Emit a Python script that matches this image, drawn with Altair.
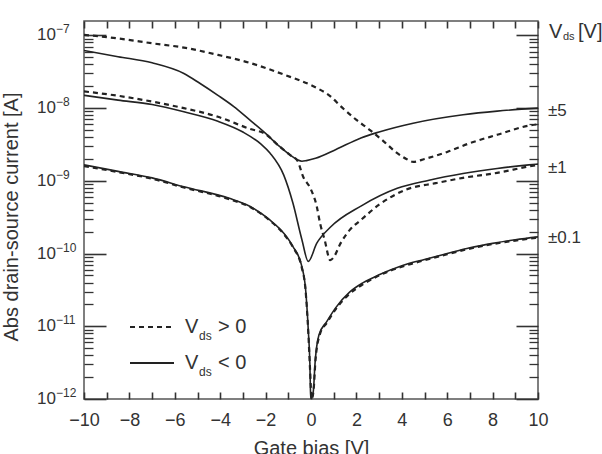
import altair as alt
import pandas as pd

W, H = 454, 378
FONT = "Liberation Sans"
INK = "#222222"
TICK = "#333333"

# ---- curves (gate bias [V], |Ids| [A]) ----
v_p5 = [-10, -8.5, -7, -5.6, -4.1, -2.7, -1.2, 0.1, 0.8, 1.4, 2.0, 2.6, 3.2, 3.8, 4.2, 4.5, 5.0, 6.0, 7.0, 8.2, 9.6, 10]
i_p5 = [1.02e-7, 9.1e-8, 7.8e-8, 6.8e-8, 5.4e-8, 4.2e-8, 2.9e-8, 2.0e-8, 1.5e-8, 1.0e-8, 6.9e-9, 5.0e-9,
        3.5e-9, 2.4e-9, 2.0e-9, 1.82e-9, 2.0e-9, 2.5e-9, 3.3e-9, 4.3e-9, 5.75e-9, 6.0e-9]

v_m5 = [-10, -8.5, -7, -5.6, -4.9, -4.1, -3.4, -2.7, -2.1, -1.4, -0.9, -0.6, -0.4, -0.2, 0.2, 1.1, 2.2, 3.0, 4.5, 6.7, 8.2, 10]
i_m5 = [6.2e-8, 5.1e-8, 4.2e-8, 3.0e-8, 2.2e-8, 1.5e-8, 1.05e-8, 6.9e-9, 4.8e-9, 3.0e-9, 2.24e-9, 1.95e-9,
        1.86e-9, 1.9e-9, 2.04e-9, 2.7e-9, 3.9e-9, 4.7e-9, 6.2e-9, 8.1e-9, 9.1e-9, 1.0e-8]

v_p1 = [-10, -8.5, -7, -5.6, -4.1, -2.7, -2.0, -1.4, -0.9, -0.6, -0.35, 0.0, 0.25, 0.4, 0.6, 0.85, 1.0, 1.3, 1.7,
        2.2, 3.0, 4.2, 5.5, 6.7, 8.2, 9.6, 10]
i_p1 = [1.7e-8, 1.48e-8, 1.23e-8, 1.0e-8, 7.6e-9, 5.2e-9, 4.4e-9, 3.0e-9, 2.24e-9, 1.9e-9, 1.15e-9, 7.6e-10,
        4.5e-10, 2.6e-10, 1.55e-10, 8.1e-11, 8.9e-11, 1.38e-10, 2.1e-10, 2.9e-10, 4.7e-10, 7.6e-10, 9.3e-10,
        1.1e-9, 1.29e-9, 1.58e-9, 1.66e-9]

v_m1 = [-10, -8.5, -7, -5.6, -4.1, -3.0, -2.2, -1.8, -1.2, -0.8, -0.4, -0.12, 0.25, 0.85, 2.2, 3.8, 5.2, 6.7, 8.2, 9.6, 10]
i_m1 = [1.5e-8, 1.29e-8, 1.12e-8, 8.9e-9, 6.6e-9, 4.7e-9, 3.2e-9, 2.4e-9, 1.2e-9, 5.0e-10, 1.55e-10, 7.8e-11,
        1.38e-10, 2.3e-10, 4.5e-10, 7.9e-10, 1.02e-9, 1.26e-9, 1.48e-9, 1.66e-9, 1.7e-9]

v_p01 = [-10, -8.5, -7, -5.6, -3.6, -2.7, -1.8, -1.2, -0.8, -0.4, -0.25, -0.12, -0.04, 0.03, 0.12, 0.2, 0.4, 0.7,
         1.1, 1.7, 2.3, 3, 4, 5, 6, 7, 8, 9, 10]
i_p01 = [1.6e-9, 1.32e-9, 1.07e-9, 8.1e-10, 5.6e-10, 4.4e-10, 2.82e-10, 1.86e-10, 1.23e-10, 6.3e-11, 3.4e-11,
         8.3e-12, 2.5e-12, 1.0e-12, 1.4e-12, 3.5e-12, 7.9e-12, 1.12e-11, 1.74e-11, 2.8e-11, 3.8e-11, 5.0e-11,
         6.6e-11, 8.1e-11, 9.8e-11, 1.17e-10, 1.35e-10, 1.51e-10, 1.66e-10]

v_m01 = [-10, -8.5, -7, -5.6, -3.6, -2.7, -1.8, -1.2, -0.8, -0.4, -0.25, -0.12, -0.05, -0.02, 0.0, 0.1, 0.18, 0.35,
         0.7, 1.1, 1.7, 2.3, 3, 4, 5, 6, 7, 8, 9, 10]
i_m01 = [1.66e-9, 1.35e-9, 1.10e-9, 8.3e-10, 5.75e-10, 4.47e-10, 2.88e-10, 1.91e-10, 1.26e-10, 6.6e-11, 3.55e-11,
         8.9e-12, 3.1e-12, 1.2e-12, 1.0e-12, 1.26e-12, 3.16e-12, 7.6e-12, 1.17e-11, 1.82e-11, 2.95e-11, 3.98e-11,
         5.1e-11, 6.8e-11, 8.3e-11, 1.0e-10, 1.2e-10, 1.38e-10, 1.55e-10, 1.7e-10]

# ---- axes / labels ----
x_tick_values = [-10, -9, -8, -7, -6, -5, -4, -3, -2, -1, 0, 1, 2, 3, 4, 5, 6, 7, 8, 9, 10]
y_decades = [1e-12, 1e-11, 1e-10, 1e-9, 1e-8, 1e-7]
y_exponents = ["\u221212", "\u221211", "\u221210", "\u22129", "\u22128", "\u22127"]
y_minor = [m * d for d in [1e-12, 1e-11, 1e-10, 1e-9, 1e-8] for m in [2, 3, 4, 5, 6, 7, 8, 9]]
vds_labels = ["\u00b15", "\u00b11", "\u00b10.1"]
vds_label_pos = [9.0e-9, 1.5e-9, 1.62e-10]

rows = []
for name, style, vs, cs in [("+5", "dash", v_p5, i_p5), ("-5", "solid", v_m5, i_m5),
                            ("+1", "dash", v_p1, i_p1), ("-1", "solid", v_m1, i_m1),
                            ("+0.1", "dash", v_p01, i_p01), ("-0.1", "solid", v_m01, i_m01)]:
    for v, c in zip(vs, cs):
        rows.append({"curve": name, "style": style, "V": v, "I": c})
df = pd.DataFrame(rows)

xscale = alt.Scale(domain=[-10, 10], nice=False, zero=False)
yscale = alt.Scale(type="log", domain=[1e-12, 1.58e-7], nice=False)

# inward ticks: axes pulled inside the frame by a negative offset
ax_bottom = alt.Axis(orient="bottom", values=x_tick_values, offset=-7, tickSize=7, tickColor=TICK, tickWidth=1.6,
                     tickOpacity=1, domain=False, grid=False, labelFlush=False, labelOverlap=False,
                     labelExpr="datum.value % 2 === 0 ? datum.label : ''",
                     labelFontSize=18, labelColor="#333", labelPadding=12,
                     title="Gate bias [V]", titleFontSize=20, titleFontWeight="normal",
                     titleColor="#333", titlePadding=9)
ax_top = alt.Axis(orient="top", values=x_tick_values, offset=-7, tickSize=7, tickColor=TICK, tickWidth=1.6,
                  tickOpacity=1, domain=False, grid=False, labels=False, title=None)
ax_left_major = alt.Axis(orient="left", values=y_decades, offset=-22, tickSize=22, tickColor=TICK, tickWidth=1.6,
                         tickOpacity=1, domain=False, grid=False, labels=False, title=None)
ax_right_major = alt.Axis(orient="right", values=y_decades, offset=-22, tickSize=22, tickColor=TICK, tickWidth=1.6,
                          tickOpacity=1, domain=False, grid=False, labels=False, title=None)
ax_left_minor = alt.Axis(orient="left", values=y_minor, offset=-9, tickSize=9, tickColor=TICK, tickWidth=1.3,
                         tickOpacity=1, domain=False, grid=False, labels=False, title=None)
ax_right_minor = alt.Axis(orient="right", values=y_minor, offset=-9, tickSize=9, tickColor=TICK, tickWidth=1.3,
                          tickOpacity=1, domain=False, grid=False, labels=False, title=None)

Y0 = alt.Y("I:Q", scale=yscale, axis=None)

solid = alt.Chart(df).transform_filter("datum.style == 'solid'").mark_line(
    interpolate="monotone", clip=True, color=INK, strokeWidth=1.6
).encode(x=alt.X("V:Q", scale=xscale, axis=ax_bottom),
         y=alt.Y("I:Q", scale=yscale, axis=ax_left_major), detail="curve:N")

dashed = alt.Chart(df).transform_filter("datum.style == 'dash'").mark_line(
    interpolate="monotone", clip=True, color=INK, strokeWidth=2.2, strokeDash=[5, 4]
).encode(x=alt.X("V:Q", scale=xscale, axis=ax_top),
         y=alt.Y("I:Q", scale=yscale, axis=ax_right_major), detail="curve:N")

dec_df = pd.DataFrame({"I": y_decades, "exp": y_exponents, "base": ["10"] * len(y_decades)})

ylab_base = alt.Chart(dec_df).mark_text(align="left", baseline="middle", fontSize=17, color="#333").encode(
    y=alt.Y("I:Q", scale=yscale, axis=ax_left_minor), x=alt.value(-47), text="base:N")
ylab_exp = alt.Chart(dec_df).mark_text(align="left", baseline="middle", fontSize=12, color="#333", dy=-6).encode(
    y=Y0, x=alt.value(-28), text="exp:N")

ytitle = alt.Chart(pd.DataFrame({"t": ["Abs drain-source current [A]"]})).mark_text(
    angle=270, align="center", baseline="middle", fontSize=20, color="#333").encode(
    x=alt.value(-72), y=alt.value(196), text="t:N")

vds_df = pd.DataFrame({"I": vds_label_pos, "t": vds_labels})
vds_text = alt.Chart(vds_df).mark_text(align="left", baseline="middle", fontSize=17, color="#333").encode(
    y=alt.Y("I:Q", scale=yscale, axis=ax_right_minor), x=alt.value(W + 10), text="t:N")

rt_items = [("V", W + 11, 11, 20), ("ds", W + 25, 16, 11), ("[V]", W + 40, 11, 20)]
rtitle = [
    alt.Chart(pd.DataFrame({"t": [t]})).mark_text(align="left", baseline="middle", fontSize=s, color="#333").encode(
        x=alt.value(xx), y=alt.value(yy), text="t:N")
    for t, xx, yy, s in rt_items
]

# legend
leg_rows = [("dash", "> 0", 306), ("solid", "< 0", 342)]
legend_layers = []
for style, txt, yy in leg_rows:
    if style == "dash":
        ln = alt.Chart(pd.DataFrame({"a": [0]})).mark_rule(color=INK, strokeWidth=2.2, strokeDash=[5, 4]).encode(
            x=alt.value(46), x2=alt.value(90), y=alt.value(yy))
    else:
        ln = alt.Chart(pd.DataFrame({"a": [0]})).mark_rule(color=INK, strokeWidth=1.8).encode(
            x=alt.value(46), x2=alt.value(90), y=alt.value(yy))
    legend_layers.append(ln)
    for t, xx, dy, s in [("V", 101, 0, 20), ("ds", 115, 9, 12), (txt, 134, 0, 20)]:
        legend_layers.append(
            alt.Chart(pd.DataFrame({"t": [t]})).mark_text(align="left", baseline="middle", fontSize=s,
                                                          color="#333", dy=dy).encode(
                x=alt.value(xx), y=alt.value(yy), text="t:N"))

chart = alt.layer(
    solid, dashed, ylab_base, ylab_exp, ytitle, vds_text, *rtitle, *legend_layers
).resolve_axis(x="independent", y="independent").properties(
    width=W, height=H,
    autosize=alt.AutoSizeParams(type="none"),
    padding={"left": 84, "top": 21, "right": 64, "bottom": 55},
).configure(font=FONT, background="white").configure_view(stroke="#555", strokeWidth=1.5)

chart.save("out.html", embed_options={"renderer": "svg", "actions": False})
